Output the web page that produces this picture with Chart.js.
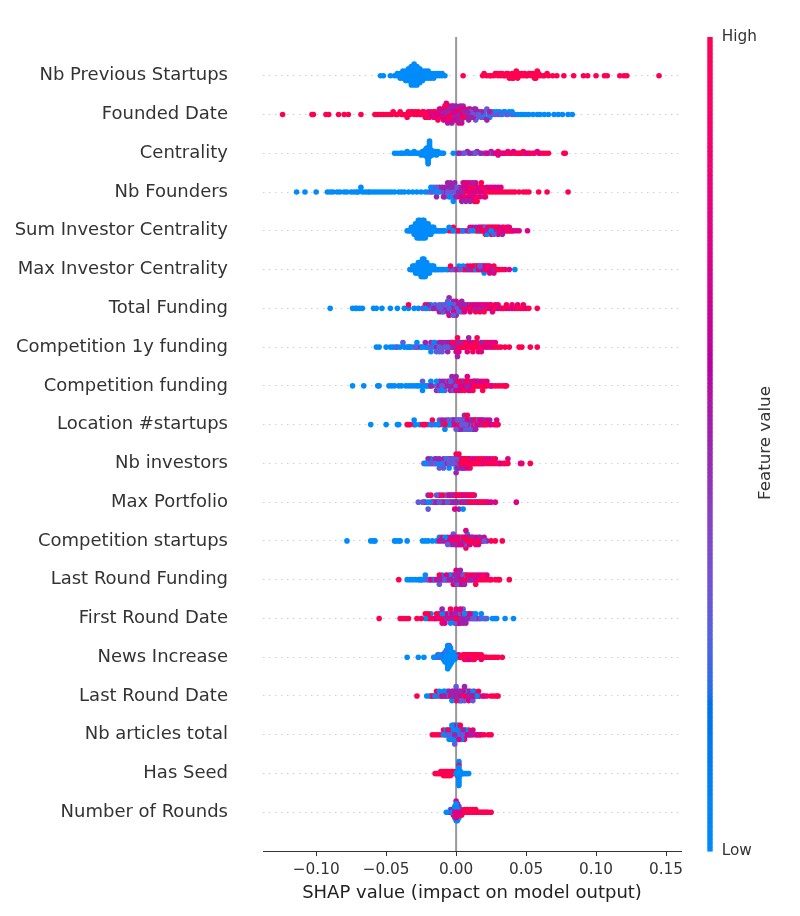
<!DOCTYPE html>
<html><head><meta charset="utf-8">
<script src="https://cdn.jsdelivr.net/npm/chart.js@4.4.1/dist/chart.umd.min.js"></script>
<style>
html,body{margin:0;padding:0;background:#fff;}
#wrap{position:relative;width:800px;height:916px;}
#cblabel{position:absolute;left:764px;top:443px;transform:translate(-50%,-50%) rotate(-90deg);font:16.7px 'DejaVu Sans';color:#333;white-space:nowrap;}
</style></head><body>
<div id="wrap"><canvas id="c" width="800" height="916"></canvas><div id="cblabel">Feature value</div></div>
<script>
// ---- data (SHAP values in thousandths), rows listed top to bottom ----
const features = ["Nb Previous Startups","Founded Date","Centrality","Nb Founders","Sum Investor Centrality","Max Investor Centrality","Total Funding","Competition 1y funding","Competition funding","Location #startups","Nb investors","Max Portfolio","Competition startups","Last Round Funding","First Round Date","News Increase","Last Round Date","Nb articles total","Has Seed","Number of Rounds"];
const featureLevels = [0, 0.3, 0.5, 0.75, 1]; // low, mid-low, mid, mid-high, high feature value
const colorbarLabels = ["Low", "High"];
const xTicks = [-0.10, -0.05, 0.00, 0.05, 0.10, 0.15];
const xTitle = "SHAP value (impact on model output)";

const shapLow = [
[-54,-52,-47,-44,-42,-42,-40,-40,-40,-38,-38,-38,-38,-36,-36,-36,-36,-36,-34,-34,-34,-34,-34,-34,-32,-32,-32,-32,-32,-32,-32,-32,-32,-30,-30,-30,-30,-30,-30,-30,-30,-30,-30,-28,-28,-28,-28,-28,-28,-28,-28,-28,-26,-26,-26,-26,-26,-26,-26,-24,-24,-24,-24,-24,-22,-22,-22,-22,-20,-20,-20,-20,-18,-18,-18,-16,-16,-16,-14,-14,-12,-12,-10,-10,-8],
[20,24,27,29,31,33,35,37,38,40,42,44,46,48,50,52,55,58,60,63,66,70,73,76,80,83],
[-44,-42,-40,-39,-38,-36,-35,-34,-33,-32,-31,-30,-29,-28,-27,-26,-25,-24,-24,-23,-23,-23,-22,-22,-22,-22,-21,-21,-21,-21,-21,-21,-20,-20,-20,-20,-20,-20,-20,-20,-19,-19,-19,-19,-19,-19,-18,-18,-18,-18,-17,-17,-17,-16,-16,-15,-15,-14,-14,-13,-12,-11,-10,-9,-2],
[-114,-108,-100,-92,-90,-88,-85,-83,-80,-78,-75,-73,-71,-70,-68,-67,-65,-63,-62,-60,-58,-56,-54,-52,-50,-48,-46,-44,-41,-39,-37,-34,-31,-28,-25,-22,-20,-18,-17,-15,-13,-5,-2],
[-35,-34,-33,-32,-32,-31,-31,-30,-30,-30,-29,-29,-29,-29,-28,-28,-28,-28,-28,-27,-27,-27,-27,-27,-27,-26,-26,-26,-26,-26,-26,-25,-25,-25,-25,-25,-24,-24,-24,-24,-24,-24,-23,-23,-23,-23,-23,-23,-22,-22,-22,-22,-22,-21,-21,-21,-21,-20,-20,-20,-20,-19,-19,-19,-18,-18,-18,-17,-17,-16,-16,-15,-14,-13,-12,-11,-10,-9,-8,-5,-2,3,6,12,17,22,25],
[-33,-32,-31,-31,-30,-30,-29,-29,-29,-28,-28,-28,-27,-27,-27,-27,-26,-26,-26,-26,-25,-25,-25,-25,-25,-24,-24,-24,-24,-24,-24,-23,-23,-23,-23,-23,-23,-22,-22,-22,-22,-22,-21,-21,-21,-21,-20,-20,-20,-19,-19,-19,-18,-18,-17,-17,-16,-15,-14,-13,-12,-11,-10,-9,-7,-4,2,5,7,10,14,20,42],
[-90,-74,-72,-71,-69,-67,-59,-57,-53,-47,-42,-37,-34,-30,-27,-22,-18,-10,-5,1,3],
[-57,-55,-50,-47,-45,-43,-40,-37,-35,-34,-32,-30,-28,-26,-24,-21,-18,-16,-15,-12,-5],
[-74,-66,-56,-55,-48,-46,-44,-41,-39,-36,-34,-32,-30,-28,-27,-25,-24,-22,-20,-18,-14,-10],
[-61,-50,-42,-41,-34,-30,-29,-26,-23,-20,-17,-15,-13,-10,-8,-5,-2,0,3,6,9],
[-22,-18,-14,-12,-9,-7,-5,-3,-1,0,1],
[-20,-8,2,5,12],
[-78,-61,-59,-58,-44,-43,-41,-40,-35,-24,-22,-20,-17,-14,-12,-8,-4,0,4,8,16],
[-35,-33,-31,-29,-27,-26,-24,-22,-19,-15,-10,-5,-2,0,3],
[-22,-18,-10,-4,0,3,6,9,12,14,16,18,20,22,26,28,29,35,41],
[-35,-27,-23,-16,-14,-13,-12,-11,-10,-9,-9,-8,-8,-8,-8,-7,-7,-7,-7,-7,-7,-6,-6,-6,-6,-6,-6,-6,-6,-6,-6,-5,-5,-5,-5,-5,-5,-5,-5,-5,-4,-4,-4,-4,-4,-4,-4,-3,-3,-3,-3,-3,-2,-2,-2,-2,-1,-1,-1,0,0,1,2],
[-21,-19,-15,-12,-9,-6,-3,0,3,6,9,12,15,17],
[-9,-7,-6,-5,-4,-4,-3,-3,-2,-2,-2,-1,-1,-1,0,0,0,1,1,1,2,2,3,3,4,5,6,7],
[0,0.5,1,1,1.5,1.5,1.5,2,2,2,2,2,2,2,2,2,2,2,2.5,2.5,2.5,3,3,3.5,4,4.5,5,6,7,8,9],
[-7,-5,-4,-3,-2,-2,-1,-1,-1,0,0,0,0,0,1,1,1,2,2,3,4]
];
const shapMidLow = [
[],
[8,10,12,14,15,16,18,19,20,22,24,25,26,28,30,32,34,36,40],
[1,3,6,9,12,14,17,20,23],
[-18,-16,-14,-12,-10,-8,-6,-4,-3,-2,-1,0],
[0,4,10,15,21,27],
[-3,3,8,13,17],
[-24,-21,-19,-17,-15,-13,-12,-11,-10,-9,-8,-7,-6,-5,-4,-3,-2,-1,0,2,4],
[-42,-38,-33,-29,-25,-22,-20,-18,-16,-14,-12,-10,-8,-6,-4],
[-24,-21,-19,-17,-14,-12,-10,-8,-6,-4,-2,0],
[-18,-12,-8,-5,-3,-1,0,1,2,3,4,5,6,7,8,9,10,12,14,16,18,20],
[-23,-21,-20,-19,-18,-17,-16,-15,-14,-13,-12,-11,-10,-9,-8,-7,-6,-5,-4,-3,-2,-1,0,2],
[-27,-24,-22,-20,-18,-16,-14,-12,-10,-8,-6,-4,-2],
[-6,-2,2,6,10,14,20],
[-22,-17,-12,-8,-4,-1,1,3,5,7],
[-8,-4,-1,1,3,5,7,9,11,13,15,18,21],
[-15,-12,-10,-8,-6,-4],
[-16,-12,-8,-5,-2,0,2,4,6,9,12],
[-5,-1,2,4],
[],
[]
];
const shapMid = [
[],
[-12,-10,-9,-8,-7,-6,-5,-4,-3,-3,-2,-1,-1,0,1,1,2,3,3,4,5,5,6,7,7,8,9,9,10,11,12,13,14,15,16,18,20,22,24],
[2,5,8,10,13,15,18,21,25],
[-14,-12,-10,-9,-8,-7,-6,-5,-4,-3,-2,-1,0,1,2,3,4,5,6,7,8,10,12,14],
[-3,2,8,12,14,16,18,19,20,22,23,24,26,27,28,30,31,33,36],
[0,6,9,12,15,18,21,24,27],
[-20,-16,-14,-12,-10,-8,-7,-6,-5,-4,-3,-2,-1,0,1,2,3,4,5,6,8,10,12,14,16,18,20],
[-28,-22,-18,-14,-12,-10,-8,-6,-5,-4,-3,-2,-1,0,1,2,3,5,7,9,12,15,18],
[-18,-14,-12,-10,-8,-6,-5,-4,-3,-2,-1,0,1,2,3,4,5,6,8,10,12,15],
[-10,-6,-3,-1,1,3,5,6,7,8,9,10,11,12,13,14,15,17,19,21,24,27,29],
[-20,-15,-12,-9,-6,-4,-2,0,1,2,3,4,5,6,8,10],
[-23,-20,-17,-15,-13,-11,-9,-7,-5,-4,-3,-2,-1,0,2,4,6,8,10,13],
[-10,-6,-3,-1,1,3,5,7,9,11,13,15,17,19,22],
[-25,-20,-16,-12,-9,-7,-5,-3,-1,0,1,2,3,4,5,6,7,9,11,14],
[-14,-10,-7,-5,-3,-1,0,1,2,3,4,5,6,7,8,10,12,14,17],
[-13,-9,-5],
[-18,-14,-11,-9,-7,-5,-3,-2,-1,0,1,2,3,4,5,6,7,8,10,12,14],
[-6,-3,-1,1,3,5,7,9,11],
[],
[-3,-1,0,1,2]
];
const shapMidHigh = [
[],
[-22,-20,-18,-16,-15,-14,-13,-12,-11,-10,-9,-9,-8,-7,-7,-6,-5,-4,-3,-3,-2,-1,-1,0,1,1,2,3,3,4,5,5,6,8,10,12,14],
[22,25,27,29,30,32,34,36,38,41,44,47,50,52,55,58,60],
[2,4,5,6,7,8,9,10,11,12,13,14,15,16,17,18,20,22,24,26,28,30,32],
[10,16,20,21,23,25,26,27,29,30,31,33,34,35,37,38,39,41,43,45,51],
[10,14,16,18,19,20,22,23,24,26,27,28,30,35,38],
[-5,-2,0,2,4,6,8,10,12,14,16,18,20,22,24,26,28,30,33,36,40,44,48],
[-10,-6,-3,0,2,4,6,8,10,12,14,16,18,20,22,24,26,28],
[-12,-8,-5,-3,-1,0,1,2,3,4,5,6,7,8,9,10,11,12,13,14,16,18,20,22,25],
[-6,-2,2,5,8,11,13,15,17,19,22,25,29],
[-5,0,2,4,5,6,7,8,9,10,12,14,16,18,20,22,24,26,28,31,34,37,46],
[-12,-5,-1,1,3,5,7,9,11,13,15,17,19,21,23,25,28,43],
[-12,-8,-5,-3,-1,0,1,2,3,4,5,6,7,8,9,10,12,14,16,18,20],
[-18,-14,-10,-7,-4,-2,0,1,2,3,4,6,8,10,12,14,16,18,20,22,25],
[-20,-15,-12,-10,-8,-6,-4,-3,-2,-1,0,1,2,3,5,7,10],
[2,5,9,13,18],
[-10,-6,-3,-1,1,3,5,7,9,11,13,16,20],
[-8,-2,2,4,6,8,10,12,14,16,18],
[],
[-4,-2,-1,0,0,1,1,2,3]
];
const shapHigh = [
[5,19,20,22,24,25,27,28,29,30,31,32,33,34,35,36,37,38,38,39,40,40,41,41,42,43,43,44,44,45,46,47,48,49,50,51,52,53,54,55,56,56,57,57,58,58,59,60,62,63,65,66,69,72,77,84,91,94,100,106,108,117,120,122,145],
[-124,-103,-102,-93,-91,-84,-80,-77,-68,-58,-56,-54,-52,-50,-48,-46,-45,-43,-42,-40,-39,-38,-36,-35,-34,-33,-32,-31,-30,-29,-28,-27,-26,-25,-24,-23,-22,-21,-20,-19,-18,-17,-16,-15,-13,-12,-10,-8,-5,-3,2,5],
[28,30,31,33,35,37,39,40,42,43,45,46,48,49,51,53,56,59,62,64,66,77,78],
[4,6,8,10,11,12,13,14,15,16,17,18,19,20,21,22,24,26,28,30,32,34,36,38,40,42,45,48,50,52,59,65,80],
[-5,-2,1,5,9,14,17,18,19,21,22,24,25,26,28,29,30,32,33,34,36,37,38,40],
[-15.5,-6,-4,-1,2,5,8,11,12,13,15,16,17,19,20,21,22,23,24,25,27,29,31,33],
[-34,-22,6,10,14,17,20,22,24,25,26,27,28,30,32,34,36,38,40,42,44,46,48,50,52,58],
[-2,0,1,2,3,4,5,6,7,8,9,10,11,12,13,14,15,16,17,18,20,22,24,26,28,30,32,35,38,45,47,53,58],
[-4,0,2,4,6,8,10,12,13,14,15,16,17,18,19,20,21,22,24,26,28,30,32,34,35,36],
[-35,-33,-30,-24,-22,-17,-12,-8,-4,0,2,4,6,8,10,12,14,16,18,20,22,24,28,30],
[0,1,2,3,4,5,6,7,8,9,10,11,12,13,14,15,16,17,18,19,20,22,24,26,28,30,32,35,37,47,53],
[-18,-14,-10,-6,-3,-1,0,1,2,3,4,5,6,7,8,9,10,11,12,14,16,18,20,22],
[-10,-6,-4,-2,-1,0,1,2,3,4,5,6,7,8,9,10,11,12,14,16,25,28,33],
[-41,-12,-6,-2,0,2,4,6,8,10,12,14,16,18,20,22,24,28,30,31,38],
[-55,-40,-38,-36,-34,-28,-25,-22,-20,-18,-16,-14,-12,-10,-8,-6,-4,-2,0,2,5],
[3,4,5,6,6,6,7,7,8,8,8,9,9,10,10,10,11,11,12,12,12,13,13,14,14,15,15,16,16,17,18,18,19,20,21,22,24,26,28,30,33],
[-28,-17,-14,-8,-4,0,2,4,6,8,10,13,16,19,22,25,27,29,30],
[-17,-15,-13,-11,-9,-7,-5,-3,0,3,6,9,12,15,17,20,23,25],
[-15,-14,-13,-12,-11,-11,-10,-10,-9,-9,-9,-8,-8,-8,-7,-7,-7,-6,-6,-6,-5,-5,-5,-4,-4,-4,-3,-3,-2,-2,-1,0,1,2,2],
[1,2,3,4,4,5,6,6,7,8,8,9,10,10,11,12,12,13,14,14,15,16,17,18,19,20,21,22,23,25]
];
const groups = [shapLow, shapMidLow, shapMid, shapMidHigh, shapHigh];

// ---- SHAP red_blue colormap (LCH interpolation) ----
function lab2rgb(L, a, b) {
  let fy = (L + 16) / 116, fx = a / 500 + fy, fz = fy - b / 200;
  if (fz < 0) fz = 0;
  const f = t => t > 0.2068966 ? t * t * t : (t - 16 / 116) / 7.787;
  const X = f(fx) * 0.95047, Y = f(fy), Z = f(fz) * 1.08883;
  const r = 3.24048134 * X - 1.53715152 * Y - 0.49853633 * Z;
  const g = -0.96925495 * X + 1.87599 * Y + 0.04155593 * Z;
  const bb = 0.05564664 * X - 0.20404134 * Y + 1.05731107 * Z;
  const gam = c => { c = c > 0.0031308 ? 1.055 * Math.pow(c, 1 / 2.4) - 0.055 : 12.92 * c; return Math.round(255 * Math.min(1, Math.max(0, c))); };
  return [gam(r), gam(g), gam(bb)];
}
function cmap(t) {
  const L = t < 0.5 ? 54 + (40 - 54) * t / 0.5 : 40 + (54 - 40) * (t - 0.5) / 0.5;
  const C = 70 + 20 * t;
  const h = 4.6588 + (0.35470565 + 2 * Math.PI - 4.6588) * t;
  const [r, g, b] = lab2rgb(L, C * Math.cos(h), C * Math.sin(h));
  return `rgb(${r},${g},${b})`;
}

// ---- beeswarm layout (same scheme as shap summary_plot) ----
const nbins = 100, rowHeight = 0.4;
const frac = i => (i * 0.6180339887) % 1;
function swarm(vals) {
  const mn = Math.min(...vals), mx = Math.max(...vals);
  const quant = vals.map(v => Math.round(nbins * (v - mn) / (mx - mn + 1e-8)));
  const order = vals.map((_, i) => i).sort((a, b) => (quant[a] - quant[b]) || (frac(a) - frac(b)));
  const ys = new Array(vals.length).fill(0);
  let layer = 0, last = -1;
  for (const i of order) {
    if (quant[i] !== last) layer = 0;
    ys[i] = Math.ceil(layer / 2) * ((layer % 2) * 2 - 1);
    layer++; last = quant[i];
  }
  const m = Math.max(...ys.map(y => y + 1));
  return ys.map(y => y * 0.9 * (rowHeight / m));
}

const nRows = features.length;
let pts = [];
for (let r = nRows - 1; r >= 0; r--) {
  const vals = [], lv = [];
  groups.forEach((g, gi) => g[r].forEach(v => { vals.push(v / 1000); lv.push(featureLevels[gi]); }));
  const ys = swarm(vals);
  const rowPts = vals.map((v, i) => ({ x: v, y: (nRows - 1 - r) + ys[i], c: cmap(lv[i]), k: frac(i * 7 + 3) }));
  rowPts.sort((a, b) => a.k - b.k);
  pts = pts.concat(rowPts);
}

const FONT = "'DejaVu Sans', sans-serif";
const zeroLine = {
  id: 'zeroLine',
  beforeDatasetsDraw(chart) {
    const { ctx, chartArea, scales: { x } } = chart;
    const px = x.getPixelForValue(0);
    ctx.save(); ctx.strokeStyle = '#999999'; ctx.lineWidth = 2;
    ctx.beginPath(); ctx.moveTo(px, chartArea.top); ctx.lineTo(px, chartArea.bottom); ctx.stroke(); ctx.restore();
  }
};
const colorBar = {
  id: 'colorBar',
  afterDraw(chart) {
    const { ctx, scales: { cb } } = chart;
    const n = 200, x0 = cb.left + 26.3, w = 5.4;
    ctx.save();
    for (let i = 0; i < n; i++) {
      const y0 = cb.getPixelForValue(i / n), y1 = cb.getPixelForValue((i + 1) / n);
      ctx.fillStyle = cmap((i + 0.5) / n);
      ctx.fillRect(x0, y1, w, y0 - y1 + 0.6);
    }
    ctx.restore();
  }
};

new Chart(document.getElementById('c'), {
  type: 'scatter',
  data: { datasets: [{ data: pts.map(p => ({ x: p.x, y: p.y })), backgroundColor: pts.map(p => p.c), pointRadius: 2.8, pointHoverRadius: 2.8, pointBorderWidth: 0, borderWidth: 0 }] },
  options: {
    responsive: false, animation: false, events: [],
    layout: { padding: { top: 37, left: 0, right: 0, bottom: 0 } },
    plugins: { legend: { display: false }, tooltip: { enabled: false } },
    scales: {
      x: {
        type: 'linear', position: 'bottom', min: -0.138, max: 0.1607,
        afterBuildTicks: s => { s.ticks = xTicks.map(v => ({ value: v })); },
        ticks: { callback: v => { const r = Math.round(v * 100) / 100; return (r < 0 ? '\u2212' : '') + Math.abs(r).toFixed(2); }, font: { family: FONT, size: 15.3 }, color: '#333', padding: 5, maxRotation: 0, autoSkip: false },
        grid: { display: true, drawOnChartArea: false, drawTicks: true, tickLength: 5, color: '#333', lineWidth: 1 },
        border: { display: true, color: '#333', width: 1 },
        title: { display: true, text: xTitle, font: { family: FONT, size: 18 }, color: '#222', padding: { top: 0, bottom: 12 } },
        afterFit: s => { s.height = 65; s.paddingLeft = 0; s.paddingRight = 0; }
      },
      y: {
        type: 'linear', position: 'left', min: -1, max: nRows,
        ticks: { stepSize: 1, autoSkip: false, maxTicksLimit: 100, callback: v => (Number.isInteger(v) && v >= 0 && v < nRows) ? features[nRows - 1 - v] : '', font: { family: FONT, size: 18 }, color: '#333', padding: 35 },
        grid: { display: true, drawTicks: false, color: c => (c.tick && c.tick.value >= 0 && c.tick.value < nRows) ? '#cfcfcf' : 'rgba(0,0,0,0)', lineWidth: 1 },
        border: { display: false, dash: [1.5, 4.5] },
        afterFit: s => { s.width = 263; s.paddingTop = 0; s.paddingBottom = 0; }
      },
      cb: {
        type: 'linear', position: 'right', min: 0, max: 1,
        ticks: { stepSize: 1, callback: v => v === 1 ? colorbarLabels[1] : (v === 0 ? colorbarLabels[0] : ''), font: { family: FONT, size: 15.3 }, color: '#333', padding: 40.7 },
        grid: { display: false, drawTicks: false }, border: { display: false },
        afterFit: s => { s.width = 119; s.paddingTop = 0; s.paddingBottom = 0; }
      }
    }
  },
  plugins: [zeroLine, colorBar]
});
</script>
</body></html>
